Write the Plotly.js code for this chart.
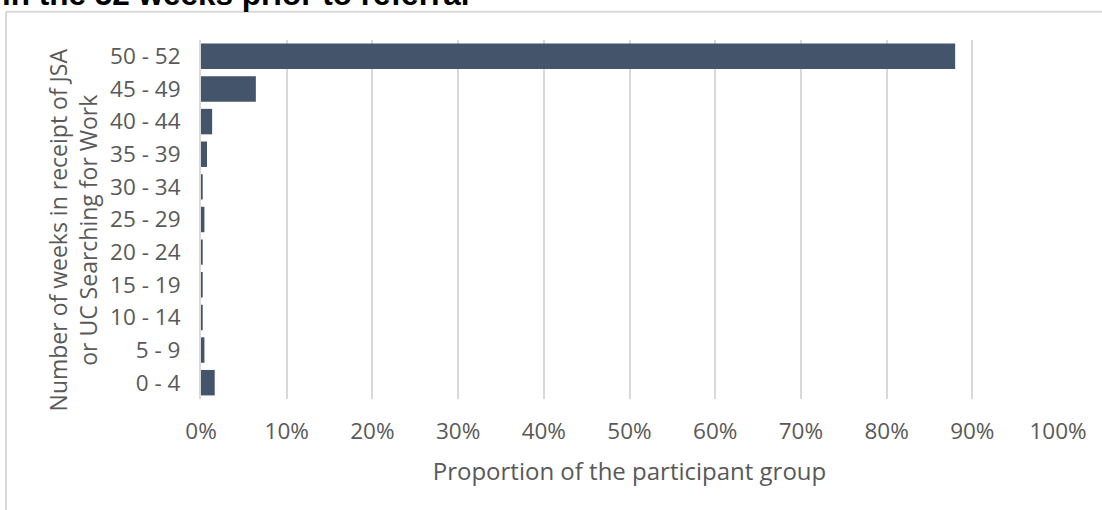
<!DOCTYPE html>
<html>
<head>
<meta charset="utf-8">
<script src="https://cdn.plot.ly/plotly-3.0.1.min.js"></script>
<style>html,body{margin:0;padding:0;background:#fff;}#chart{width:1102px;height:510px;}</style>
</head>
<body>
<div id="chart"></div>
<script>
const categories = ['0 - 4','5 - 9','10 - 14','15 - 19','20 - 24','25 - 29','30 - 34','35 - 39','40 - 44','45 - 49','50 - 52'];
const proportions = [1.6, 0.4, 0.2, 0.2, 0.2, 0.4, 0.2, 0.7, 1.3, 6.4, 88.0];
const xTickValues = [0,10,20,30,40,50,60,70,80,90,100];
const xTickLabels = ['0%','10%','20%','30%','40%','50%','60%','70%','80%','90%','100%'];
const chartTitle = 'in the 52 weeks prior to referral';
const xTitle = 'Proportion of the participant group';
const yTitle = 'Number of weeks in receipt of JSA<br>or UC Searching for Work';

const font = '"Open Sans", "Noto Sans", sans-serif';
const grey = '#595959';

const trace = {
  type: 'bar',
  orientation: 'h',
  y: categories,
  x: proportions,
  marker: {color: '#44546A'},
  hoverinfo: 'x+y'
};

const layout = {
  width: 1102, height: 510,
  margin: {l: 201, r: 44, t: 40, b: 111, pad: 0},
  paper_bgcolor: '#ffffff', plot_bgcolor: '#ffffff',
  showlegend: false,
  bargap: 0.22,
  font: {family: font, color: grey, size: 22},
  xaxis: {
    range: [0, 100], tickmode: 'array', tickvals: xTickValues, ticktext: xTickLabels,
    showgrid: true, gridcolor: '#d9d9d9', gridwidth: 2,
    zeroline: false, showline: false, ticks: '',
    ticklabelstandoff: 16,
    tickfont: {family: font, size: 22.5, color: grey},
    title: {text: xTitle, font: {family: font, size: 24, color: grey}, standoff: 18}
  },
  yaxis: {
    type: 'category', categoryorder: 'array', categoryarray: categories,
    showgrid: false, zeroline: false, ticks: '',
    showline: true, linecolor: '#d9d9d9', linewidth: 2,
    ticklabelstandoff: 14,
    tickfont: {family: font, size: 22.5, color: grey}
  },
  annotations: [{
    text: '<b>' + chartTitle + '</b>',
    xref: 'paper', yref: 'paper',
    x: -0.2345, y: 1.127, xanchor: 'left', yanchor: 'middle',
    showarrow: false,
    font: {family: 'Arial, "Liberation Sans", sans-serif', size: 31.5, color: '#000000'}
  }, {
    text: yTitle,
    xref: 'paper', yref: 'paper',
    x: -0.1495, y: 0.472, xanchor: 'center', yanchor: 'middle',
    textangle: -90, showarrow: false,
    font: {family: font, size: 23, color: grey}
  }],
  shapes: [
    {type: 'line', xref: 'paper', yref: 'paper', x0: -0.2275, x1: 1.1, y0: 1.0785, y1: 1.0785, line: {color: '#d9d9d9', width: 2}},
    {type: 'line', xref: 'paper', yref: 'paper', x0: -0.2275, x1: -0.2275, y0: 1.0785, y1: -0.35, line: {color: '#d9d9d9', width: 2}}
  ]
};

Plotly.newPlot('chart', [trace], layout, {displayModeBar: false, staticPlot: true});
</script>
</body>
</html>
